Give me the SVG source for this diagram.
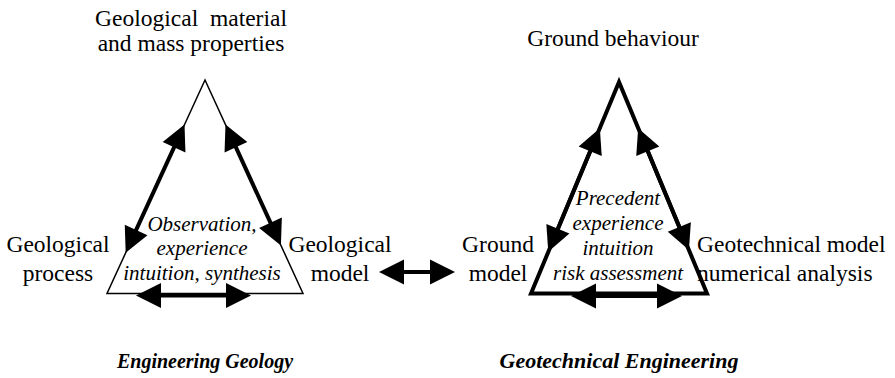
<svg xmlns="http://www.w3.org/2000/svg" width="895" height="378" viewBox="0 0 895 378">
  <style>
    .lbl { font-size: 23.5px; }
    .inner { font-size: 21px; font-style: italic; }
    .title { font-style: italic; font-weight: bold; }
    .mid { text-anchor: middle; }
    .thin { fill: none; stroke: #000; stroke-width: 1.5; stroke-linejoin: miter; }
    .thick { fill: none; stroke: #000; stroke-width: 4; stroke-linejoin: miter; }
    .dbl { fill: none; stroke: #000; stroke-width: 4; marker-start: url(#head); marker-end: url(#head); }
  </style>
  <defs>
    <marker id="head" markerUnits="userSpaceOnUse" viewBox="0 -13 26 26" markerWidth="26" markerHeight="26" refX="1" refY="0" orient="auto-start-reverse" overflow="visible">
      <path d="M0,-12.5 L25,0 L0,12.5 Z" fill="#000"/>
    </marker>
  </defs>

  <g id="geology-triangle">
    <polygon class="thin" points="205,80 107,293.5 303,293.5"/>
    <text class="inner mid" style="font-family:'Liberation Serif'" x="202" y="231">Observation,</text>
    <text class="inner mid" style="font-family:'Liberation Serif'" x="202" y="255">experience</text>
    <text class="inner mid" style="font-family:'Liberation Serif'" x="202" y="280">intuition, synthesis</text>
  </g>

  <g id="engineering-triangle">
    <polygon class="thick" points="619,82 531,293.5 707,293.5"/>
    <text class="inner mid" style="font-family:'Liberation Serif'" x="618" y="205">Precedent</text>
    <text class="inner mid" style="font-family:'Liberation Serif'" x="618" y="230">experience</text>
    <text class="inner mid" style="font-family:'Liberation Serif'" x="618" y="255">intuition</text>
    <text class="inner mid" style="font-family:'Liberation Serif'" x="618" y="280">risk assessment</text>
  </g>

  <g id="geological-material">
    <text class="lbl mid" style="font-family:'Liberation Serif'" x="191" y="26" xml:space="preserve">Geological  material</text>
    <text class="lbl mid" style="font-family:'Liberation Serif'" x="191" y="51">and mass properties</text>
  </g>
  <g id="geological-process">
    <text class="lbl mid" style="font-family:'Liberation Serif'" x="58" y="252">Geological</text>
    <text class="lbl mid" style="font-family:'Liberation Serif'" x="58" y="281">process</text>
  </g>
  <g id="geological-model">
    <text class="lbl mid" style="font-family:'Liberation Serif'" x="340" y="252">Geological</text>
    <text class="lbl mid" style="font-family:'Liberation Serif'" x="340" y="281">model</text>
  </g>
  <g id="ground-behaviour">
    <text class="lbl mid" style="font-family:'Liberation Serif'" x="613" y="46">Ground behaviour</text>
  </g>
  <g id="ground-model">
    <text class="lbl mid" style="font-family:'Liberation Serif'" x="498" y="252">Ground</text>
    <text class="lbl mid" style="font-family:'Liberation Serif'" x="498" y="281">model</text>
  </g>
  <g id="geotechnical-model">
    <text class="lbl" style="font-family:'Liberation Serif'" x="697" y="252">Geotechnical model</text>
    <text class="lbl" style="font-family:'Liberation Serif'" x="697" y="281">numerical analysis</text>
  </g>

  <g id="titles">
    <text class="title mid" style="font-family:'Liberation Serif'" x="205" y="368" font-size="20">Engineering Geology</text>
    <text class="title mid" style="font-family:'Liberation Serif'" x="619" y="368" font-size="22">Geotechnical Engineering</text>
  </g>

  <g id="connectors">
    <line class="dbl" x1="174.5" y1="146.4" x2="135.7" y2="230.9"/>
    <line class="dbl" x1="235.5" y1="146.4" x2="270.9" y2="223.6"/>
    <line class="dbl" x1="160" y1="295.5" x2="227" y2="295.5"/>
    <line class="dbl" x1="590.6" y1="150.3" x2="557.5" y2="229.7"/>
    <line class="dbl" x1="647.4" y1="150.3" x2="679.7" y2="227.9"/>
    <line class="dbl" x1="595" y1="296" x2="658" y2="296"/>
    <line class="dbl" x1="403" y1="272" x2="431" y2="272"/>
  </g>
</svg>
